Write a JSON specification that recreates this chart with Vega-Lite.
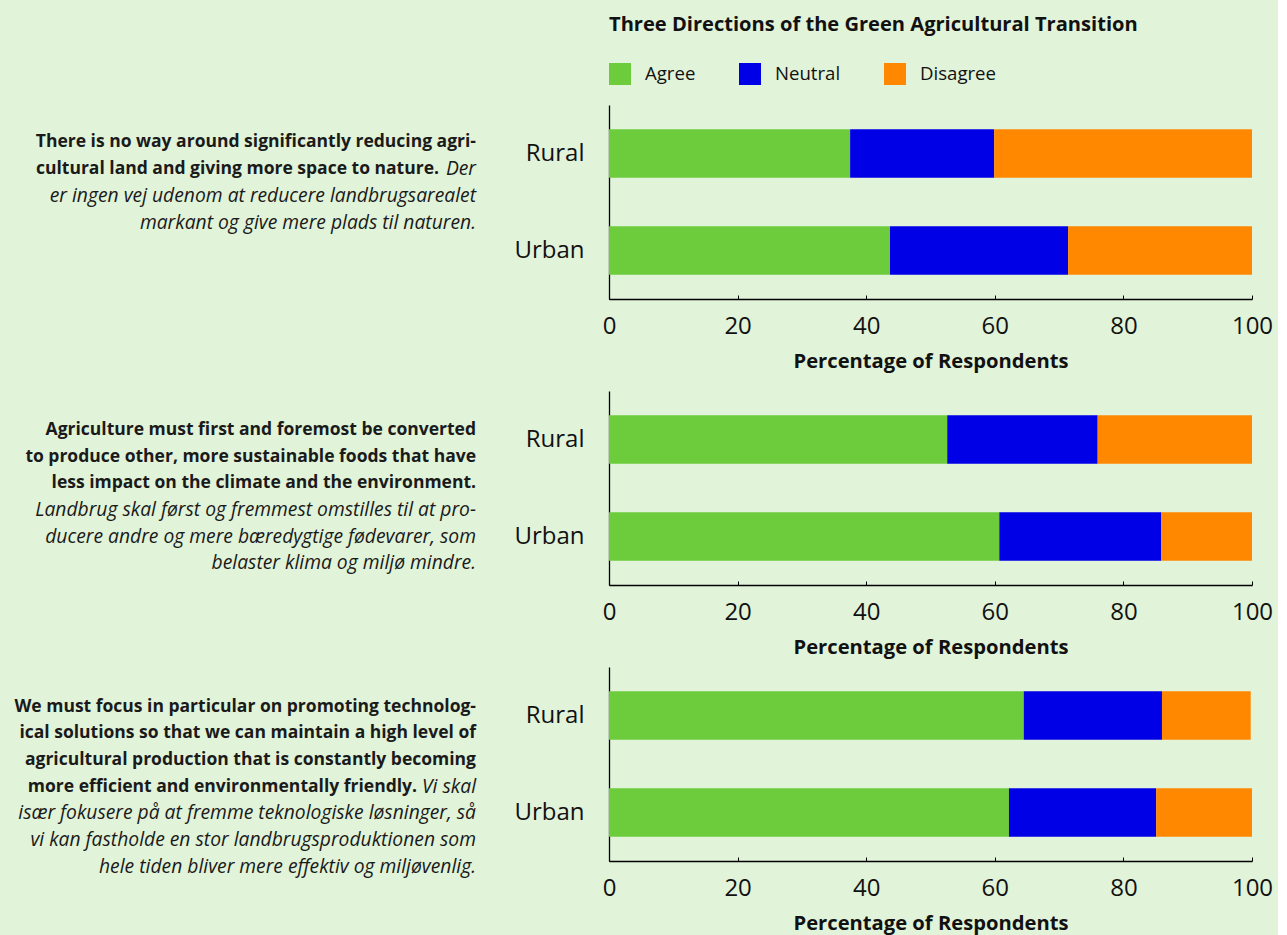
{
  "$schema": "https://vega.github.io/schema/vega-lite/v6.json",
  "background": "#e1f3d9",
  "padding": {"left": 5, "top": 14, "right": 5, "bottom": 5},
  "config": {
    "view": {"stroke": null},
    "font": "Open Sans",
    "axis": {"labelColor": "#111", "titleColor": "#111", "domainColor": "#000", "tickColor": "#000", "grid": false},
    "title": {"color": "#111"},
    "legend": {"labelColor": "#111"}
  },
  "datasets": {
    "bars": [
      {"panel": 1, "group": "Rural", "response": "Agree", "rank": 1, "pct": 37.5},
      {"panel": 1, "group": "Rural", "response": "Neutral", "rank": 2, "pct": 22.4},
      {"panel": 1, "group": "Rural", "response": "Disagree", "rank": 3, "pct": 40.1},
      {"panel": 1, "group": "Urban", "response": "Agree", "rank": 1, "pct": 43.7},
      {"panel": 1, "group": "Urban", "response": "Neutral", "rank": 2, "pct": 27.7},
      {"panel": 1, "group": "Urban", "response": "Disagree", "rank": 3, "pct": 28.6},
      {"panel": 2, "group": "Rural", "response": "Agree", "rank": 1, "pct": 52.6},
      {"panel": 2, "group": "Rural", "response": "Neutral", "rank": 2, "pct": 23.4},
      {"panel": 2, "group": "Rural", "response": "Disagree", "rank": 3, "pct": 24.0},
      {"panel": 2, "group": "Urban", "response": "Agree", "rank": 1, "pct": 60.7},
      {"panel": 2, "group": "Urban", "response": "Neutral", "rank": 2, "pct": 25.2},
      {"panel": 2, "group": "Urban", "response": "Disagree", "rank": 3, "pct": 14.1},
      {"panel": 3, "group": "Rural", "response": "Agree", "rank": 1, "pct": 64.5},
      {"panel": 3, "group": "Rural", "response": "Neutral", "rank": 2, "pct": 21.5},
      {"panel": 3, "group": "Rural", "response": "Disagree", "rank": 3, "pct": 13.8},
      {"panel": 3, "group": "Urban", "response": "Agree", "rank": 1, "pct": 62.2},
      {"panel": 3, "group": "Urban", "response": "Neutral", "rank": 2, "pct": 22.9},
      {"panel": 3, "group": "Urban", "response": "Disagree", "rank": 3, "pct": 14.9}
    ],
    "text": [
      {"panel": 1, "line": 0, "part": "bold", "text": "There is no way around significantly reducing agri-"},
      {"panel": 1, "line": 1, "part": "head", "text": "cultural land and giving more space to nature."},
      {"panel": 1, "line": 1, "part": "tail", "text": "Der"},
      {"panel": 1, "line": 2, "part": "italic", "text": "er ingen vej udenom at reducere landbrugsarealet"},
      {"panel": 1, "line": 3, "part": "italic", "text": "markant og give mere plads til naturen."},
      {"panel": 2, "line": 0, "part": "bold", "text": "Agriculture must first and foremost be converted"},
      {"panel": 2, "line": 1, "part": "bold", "text": "to produce other, more sustainable foods that have"},
      {"panel": 2, "line": 2, "part": "bold", "text": "less impact on the climate and the environment."},
      {"panel": 2, "line": 3, "part": "italic", "text": "Landbrug skal først og fremmest omstilles til at pro-"},
      {"panel": 2, "line": 4, "part": "italic", "text": "ducere andre og mere bæredygtige fødevarer, som"},
      {"panel": 2, "line": 5, "part": "italic", "text": "belaster klima og miljø mindre."},
      {"panel": 3, "line": 0, "part": "bold", "text": "We must focus in particular on promoting technolog-"},
      {"panel": 3, "line": 1, "part": "bold", "text": "ical solutions so that we can maintain a high level of"},
      {"panel": 3, "line": 2, "part": "bold", "text": "agricultural production that is constantly becoming"},
      {"panel": 3, "line": 3, "part": "head", "text": "more efficient and environmentally friendly."},
      {"panel": 3, "line": 3, "part": "tail", "text": "Vi skal"},
      {"panel": 3, "line": 4, "part": "italic", "text": "især fokusere på at fremme teknologiske løsninger, så"},
      {"panel": 3, "line": 5, "part": "italic", "text": "vi kan fastholde en stor landbrugsproduktionen som"},
      {"panel": 3, "line": 6, "part": "italic", "text": "hele tiden bliver mere effektiv og miljøvenlig."}
    ]
  },
  "columns": 2,
  "bounds": "flush",
  "spacing": {"row": 82, "column": 133},
  "resolve": {"scale": {"color": "independent"}, "legend": {"color": "independent"}},
  "concat": [
    {
      "width": 471, "height": 204,
      "data": {"name": "text"},
      "transform": [{"filter": "datum.panel == 1"}],
      "encoding": {
        "x": {"value": "width"},
        "y": {"field": "line", "type": "quantitative", "scale": {"domain": [-1.349, 6.151], "reverse": true, "nice": false, "zero": false}, "axis": null},
        "text": {"field": "text"}
      },
      "layer": [
        {"transform": [{"filter": "datum.part == 'bold'"}], "mark": {"type": "text", "align": "right", "baseline": "middle", "fontSize": 17.5, "fontWeight": "bold", "color": "#1a1a1a"}},
        {"transform": [{"filter": "datum.part == 'italic' || datum.part == 'tail'"}], "mark": {"type": "text", "align": "right", "baseline": "middle", "fontSize": 19.3, "fontStyle": "italic", "color": "#1a1a1a"}},
        {"transform": [{"filter": "datum.part == 'head'"}], "mark": {"type": "text", "align": "right", "baseline": "middle", "fontSize": 17.5, "fontWeight": "bold", "color": "#1a1a1a", "dx": -37}}
      ]
    },
    {
      "width": 643, "height": 194,
      "title": {"text": "Three Directions of the Green Agricultural Transition", "anchor": "start", "frame": "group", "fontSize": 20.1, "fontWeight": "bold", "offset": 28},
      "data": {"name": "bars"},
      "transform": [{"filter": "datum.panel == 1"}],
      "mark": {"type": "bar"},
      "encoding": {
        "y": {"field": "group", "type": "nominal", "sort": ["Rural", "Urban"], "scale": {"paddingInner": 0.5, "paddingOuter": 0.25}, "axis": {"title": null, "labelFontSize": 24, "ticks": false, "labelPadding": 25, "domainWidth": 1.3}},
        "x": {"field": "pct", "type": "quantitative", "stack": "zero", "scale": {"domain": [0, 100], "nice": false}, "axis": {"title": "Percentage of Respondents", "titleFontSize": 20.2, "titleFontWeight": "bold", "titlePadding": 13, "labelFontSize": 24, "labelFlush": false, "labelPadding": 19, "tickSize": -4, "values": [0, 20, 40, 60, 80, 100], "domainWidth": 1.5}},
        "color": {"field": "response", "type": "nominal", "scale": {"domain": ["Agree", "Neutral", "Disagree"], "range": ["#6ccc3c", "#0000e6", "#ff8800"]}, "legend": {"orient": "top", "direction": "horizontal", "title": null, "symbolType": "square", "symbolSize": 484, "symbolStrokeWidth": 0, "labelFontSize": 18.6, "labelOffset": 14, "columnPadding": 43, "offset": 20}},
        "order": {"field": "rank"}
      }
    },
    {
      "width": 471, "height": 194,
      "data": {"name": "text"},
      "transform": [{"filter": "datum.panel == 2"}],
      "encoding": {
        "x": {"value": "width"},
        "y": {"field": "line", "type": "quantitative", "scale": {"domain": [-1.4625, 5.812], "reverse": true, "nice": false, "zero": false}, "axis": null},
        "text": {"field": "text"}
      },
      "layer": [
        {"transform": [{"filter": "datum.part == 'bold'"}], "mark": {"type": "text", "align": "right", "baseline": "middle", "fontSize": 17.5, "fontWeight": "bold", "color": "#1a1a1a"}},
        {"transform": [{"filter": "datum.part == 'italic' || datum.part == 'tail'"}], "mark": {"type": "text", "align": "right", "baseline": "middle", "fontSize": 19.3, "fontStyle": "italic", "color": "#1a1a1a"}}
      ]
    },
    {
      "width": 643, "height": 194,
      "data": {"name": "bars"},
      "transform": [{"filter": "datum.panel == 2"}],
      "mark": {"type": "bar"},
      "encoding": {
        "y": {"field": "group", "type": "nominal", "sort": ["Rural", "Urban"], "scale": {"paddingInner": 0.5, "paddingOuter": 0.25}, "axis": {"title": null, "labelFontSize": 24, "ticks": false, "labelPadding": 25, "domainWidth": 1.3}},
        "x": {"field": "pct", "type": "quantitative", "stack": "zero", "scale": {"domain": [0, 100], "nice": false}, "axis": {"title": "Percentage of Respondents", "titleFontSize": 20.2, "titleFontWeight": "bold", "titlePadding": 13, "labelFontSize": 24, "labelFlush": false, "labelPadding": 19, "tickSize": -4, "values": [0, 20, 40, 60, 80, 100], "domainWidth": 1.5}},
        "color": {"field": "response", "type": "nominal", "scale": {"domain": ["Agree", "Neutral", "Disagree"], "range": ["#6ccc3c", "#0000e6", "#ff8800"]}, "legend": null},
        "order": {"field": "rank"}
      }
    },
    {
      "width": 471, "height": 194,
      "data": {"name": "text"},
      "transform": [{"filter": "datum.panel == 3"}],
      "encoding": {
        "x": {"value": "width"},
        "y": {"field": "line", "type": "quantitative", "scale": {"domain": [-1.489, 5.786], "reverse": true, "nice": false, "zero": false}, "axis": null},
        "text": {"field": "text"}
      },
      "layer": [
        {"transform": [{"filter": "datum.part == 'bold'"}], "mark": {"type": "text", "align": "right", "baseline": "middle", "fontSize": 17.5, "fontWeight": "bold", "color": "#1a1a1a"}},
        {"transform": [{"filter": "datum.part == 'italic' || datum.part == 'tail'"}], "mark": {"type": "text", "align": "right", "baseline": "middle", "fontSize": 19.3, "fontStyle": "italic", "color": "#1a1a1a"}},
        {"transform": [{"filter": "datum.part == 'head'"}], "mark": {"type": "text", "align": "right", "baseline": "middle", "fontSize": 17.5, "fontWeight": "bold", "color": "#1a1a1a", "dx": -59}}
      ]
    },
    {
      "width": 643, "height": 194,
      "data": {"name": "bars"},
      "transform": [{"filter": "datum.panel == 3"}],
      "mark": {"type": "bar"},
      "encoding": {
        "y": {"field": "group", "type": "nominal", "sort": ["Rural", "Urban"], "scale": {"paddingInner": 0.5, "paddingOuter": 0.25}, "axis": {"title": null, "labelFontSize": 24, "ticks": false, "labelPadding": 25, "domainWidth": 1.3}},
        "x": {"field": "pct", "type": "quantitative", "stack": "zero", "scale": {"domain": [0, 100], "nice": false}, "axis": {"title": "Percentage of Respondents", "titleFontSize": 20.2, "titleFontWeight": "bold", "titlePadding": 13, "labelFontSize": 24, "labelFlush": false, "labelPadding": 19, "tickSize": -4, "values": [0, 20, 40, 60, 80, 100], "domainWidth": 1.5}},
        "color": {"field": "response", "type": "nominal", "scale": {"domain": ["Agree", "Neutral", "Disagree"], "range": ["#6ccc3c", "#0000e6", "#ff8800"]}, "legend": null},
        "order": {"field": "rank"}
      }
    }
  ]
}
